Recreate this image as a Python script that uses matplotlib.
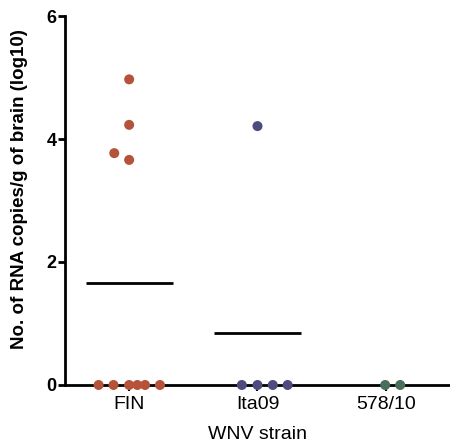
import numpy as np
import matplotlib.pyplot as plt

plt.rcParams['font.family'] = ['Liberation Sans', 'DejaVu Sans']

# log10 RNA copies per g of brain, one value per animal
strains = ['FIN', 'Ita09', '578/10']
fin = [4.97, 4.23, 3.77, 3.66, 0, 0, 0, 0, 0, 0]
ita09 = [4.21, 0, 0, 0, 0]
s578 = [0, 0]
groups = [fin, ita09, s578]
colors = ['#B5533A', '#4E4B7F', '#4A6E5A']

# horizontal scatter offsets for the swarm layout
offsets = [
    [0.0, 0.0, -0.116, 0.0, -0.238, -0.122, 0.0, 0.064, 0.124, 0.240],
    [0.0, -0.122, 0.0, 0.119, 0.235],
    [-0.005, 0.112],
]

fig = plt.figure(figsize=(4.5, 4.46), dpi=100)
ax = fig.add_axes([0.1444, 0.1368, 0.8556, 0.8273])

for i, (vals, dx, c) in enumerate(zip(groups, offsets, colors)):
    x = i + np.array(dx)
    ax.scatter(x, vals, s=52, color=c, edgecolors='none', zorder=3, clip_on=False)
    m = np.mean(vals)
    if m > 0:
        ax.hlines(m, i - 0.34, i + 0.34, color='black', lw=2, zorder=2)

ax.set_xlim(-0.5, 2.5)
ax.set_ylim(0, 6)
ax.set_yticks([0, 2, 4, 6])
ax.set_xticks(range(len(strains)))
ax.set_xticklabels(strains, fontsize=14)
for lbl in ax.get_yticklabels():
    lbl.set_fontweight('bold')
    lbl.set_fontsize(13)

for side in ['top', 'right']:
    ax.spines[side].set_visible(False)
for side in ['left', 'bottom']:
    ax.spines[side].set_linewidth(2)
ax.tick_params(axis='y', length=5, width=2, pad=1)
ax.tick_params(axis='x', length=4, width=1.5, pad=4)

ax.set_ylabel('No. of RNA copies/g of brain (log10)', fontsize=13.5,
              fontweight='bold')
ax.yaxis.set_label_coords(-0.097, 0.53)
ax.set_xlabel('WNV strain', fontsize=14, labelpad=9)

fig.savefig('out.png', dpi=100)
